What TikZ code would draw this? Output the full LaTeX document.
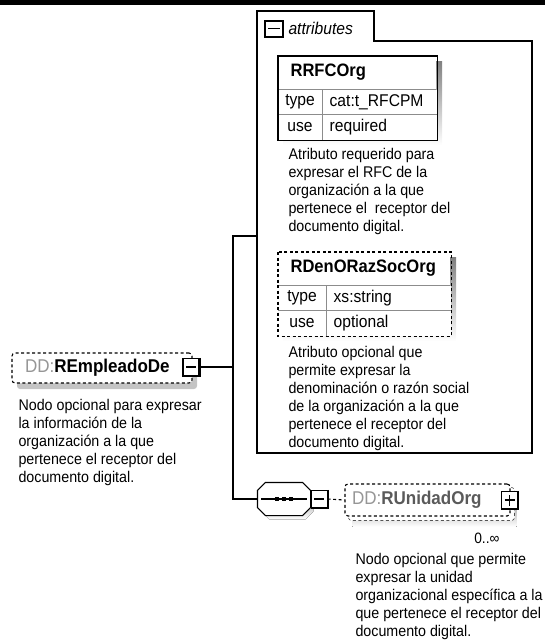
\documentclass[tikz,border=0pt]{standalone}
\usepackage{fontspec}
\setmainfont[FakeStretch=0.92]{Liberation Sans}
\usetikzlibrary{positioning,shadows,backgrounds}
\definecolor{shade}{RGB}{196,196,196}
\definecolor{ddgray}{RGB}{150,150,150}
\definecolor{namegray}{RGB}{90,90,90}
\definecolor{gridgray}{RGB}{140,140,140}

\begin{document}
\begin{tikzpicture}[x=1pt,y=-1pt,line width=1.1pt,
    dashes/.style={dash pattern=on 3pt off 2.5pt},
    desc/.style={font=\fontsize{15.5pt}{18pt}\selectfont,align=left,anchor=north west,inner sep=0pt},
    elem/.style={draw,dashes,rounded corners=3pt,fill=white,minimum height=30pt,align=left,inner ysep=0pt,
      font=\fontsize{18.5pt}{20pt}\selectfont},
    btn/.style={draw,solid,fill=white,inner sep=0pt,minimum width=16pt,minimum height=17pt},
    minus/.style={btn,path picture={\draw[line width=1.2pt] ([xshift=3pt]path picture bounding box.west) -- ([xshift=-3pt]path picture bounding box.east);}},
    plus/.style={btn,path picture={
      \draw[line width=1.2pt] ([xshift=3pt]path picture bounding box.west) -- ([xshift=-3pt]path picture bounding box.east);
      \draw[line width=1.2pt] ([yshift=3pt]path picture bounding box.south) -- ([yshift=-3pt]path picture bounding box.north);}},
    thead/.style={anchor=north west,fill=white,text width=#1,inner xsep=12pt,minimum height=32pt,
      font=\bfseries\fontsize{18pt}{20pt}\selectfont},
    tkey/.style={anchor=north west,fill=white,minimum width=#1,minimum height=24.5pt,inner sep=0pt,
      font=\fontsize{17pt}{19pt}\selectfont},
    tval/.style={anchor=north west,fill=white,text width=#1,inner xsep=7pt,inner ysep=0pt,minimum height=24.5pt,
      align=left,font=\fontsize{17pt}{19pt}\selectfont},
    gridline/.style={draw=gridgray,line width=0.9pt},
    seqbox/.style={minimum width=52pt,minimum height=32pt,inner sep=0pt}]

  \useasboundingbox (0,0) rectangle (545,643);
  \fill (0,0) rectangle (545,4.5);

  % attributes group
  \draw (257,453) -- (257,11) -- (374,11) -- (374,41) -- (532,41) -- (532,453) -- cycle;
  \node[minus,line width=2pt,minimum width=18pt,minimum height=16pt] (attrBtn) at (274,28.5) {};
  \node[right=4pt of attrBtn,inner sep=0pt,font=\itshape\fontsize{17pt}{19pt}\selectfont] (attrTab) {attributes};

  % RRFCOrg
  \node[thead=133pt] (rfcHead) at (278,56) {RRFCOrg};
  \node[tkey=43pt] (rfcTypeK) at (rfcHead.south west) {type};
  \node[tval=100pt] (rfcTypeV) at (rfcTypeK.north east) {cat:t\_RFCPM};
  \node[tkey=43pt] (rfcUseK) at (rfcTypeK.south west) {use};
  \node[tval=100pt] (rfcUseV) at (rfcUseK.north east) {required};
  \draw[gridline] (rfcHead.south west) -- (rfcHead.south east)
    (rfcTypeK.south west) -- (rfcTypeV.south east)
    (rfcTypeK.north east) -- (rfcUseK.south east);
  \draw (rfcHead.north west) rectangle (rfcUseV.south east);
  \node[desc] (rfcDesc) at (288,148) {Atributo requerido para\\expresar el RFC de la\\organización a la que\\pertenece el~ receptor del\\documento digital.};

  % RDenORazSocOrg
  \node[thead=147pt] (denHead) at (278,252) {RDenORazSocOrg};
  \node[tkey=47pt] (denTypeK) at (denHead.south west) {type};
  \node[tval=110pt] (denTypeV) at (denTypeK.north east) {xs:string};
  \node[tkey=47pt] (denUseK) at (denTypeK.south west) {use};
  \node[tval=110pt] (denUseV) at (denUseK.north east) {optional};
  \draw[gridline] (denHead.south west) -- (denHead.south east)
    (denTypeK.south west) -- (denTypeV.south east)
    (denTypeK.north east) -- (denUseK.south east);
  \draw[dashes] (denHead.north west) rectangle (denUseV.south east);
  \node[desc] (denDesc) at (288,346) {Atributo opcional que\\permite expresar la\\denominación o razón social\\de la organización a la que\\pertenece el receptor del\\documento digital.};

  % REmpleadoDe
  \node[elem,text width=154pt,inner xsep=13pt,
    drop shadow={shadow xshift=5pt,shadow yshift=-6pt,fill=shade,opacity=1}] (empleado) at (102,368)
    {\textcolor{ddgray}{DD:}\textbf{REmpleadoDe}};
  \node[minus] (empBtn) at (191,367) {};
  \node[desc] (empDesc) at (18,399) {Nodo opcional para expresar\\la información de la\\organización a la que\\pertenece el receptor del\\documento digital.};

  % sequence
  \node[seqbox] (seq) at (284,499) {};
  \fill[shade] ([shift={(4pt,-5pt)}]seq.north west) ++(8,0) -- ++(36,0) -- ++(8,8) -- ++(0,16) -- ++(-8,8)
    -- ++(-36,0) -- ++(-8,-8) -- ++(0,-16) -- cycle;
  \draw[fill=white] ([xshift=8pt]seq.north west) -- ([xshift=-8pt]seq.north east) -- ([yshift=-8pt]seq.north east)
    -- ([yshift=8pt]seq.south east) -- ([xshift=-8pt]seq.south east) -- ([xshift=8pt]seq.south west)
    -- ([yshift=8pt]seq.south west) -- ([yshift=-8pt]seq.north west) -- cycle;
  \draw ([xshift=4pt]seq.west) -- ([xshift=-4pt]seq.east);
  \foreach \dx in {-7,0,7}
    \fill ([xshift=\dx pt]seq.center) +(-2.3,-2.3) rectangle +(2.3,2.3);
  \node[minus,right=0pt of seq] (seqBtn) {};

  % RUnidadOrg
  \node[elem,text width=151pt,inner xsep=7pt,minimum height=32pt] (unidad) at (427.5,500)
    {\textcolor{ddgray}{DD:}\textbf{\textcolor{namegray}{RUnidadOrg}}};
  \begin{scope}[on background layer]
    \fill[shade] ([shift={(8pt,-10pt)}]unidad.north west) rectangle ([shift={(6pt,-10pt)}]unidad.south east);
    \draw[dashes,fill=white,rounded corners=3pt] ([shift={(4pt,-4pt)}]unidad.north west) rectangle ([shift={(4pt,-4pt)}]unidad.south east);
  \end{scope}
  \node[plus] (uniBtn) at (509.5,500) {};
  \node[anchor=east,inner sep=0pt,font=\fontsize{15pt}{17pt}\selectfont] (uniCard) at (500,538) {0..∞};
  \node[desc] (uniDesc) at (355,553) {Nodo opcional que permite\\expresar la unidad\\organizacional específica a la\\que pertenece el receptor del\\documento digital.};

  \foreach \b in {empBtn,seqBtn,uniBtn}
    \draw[line width=2pt] (\b.north east) -- (\b.south east) -- (\b.south west);

  % connectors
  \coordinate (spine) at (233,367);
  \coordinate (attrIn) at (257,236);
  \draw (empBtn.east) -- (spine);
  \draw (attrIn) -- (attrIn -| spine) -- (seq.west -| spine) -- (seq.west);
  \draw[dashes] (seqBtn.east) -- (unidad.west);

  % table shadows
  \begin{scope}[on background layer]
    \fill[shade] ([shift={(5pt,-5pt)}]rfcHead.north west) rectangle ([shift={(5pt,-5pt)}]rfcUseV.south east);
    \fill[shade] ([shift={(5pt,-5pt)}]denHead.north west) rectangle ([shift={(5pt,-5pt)}]denUseV.south east);
  \end{scope}
\end{tikzpicture}
\end{document}
